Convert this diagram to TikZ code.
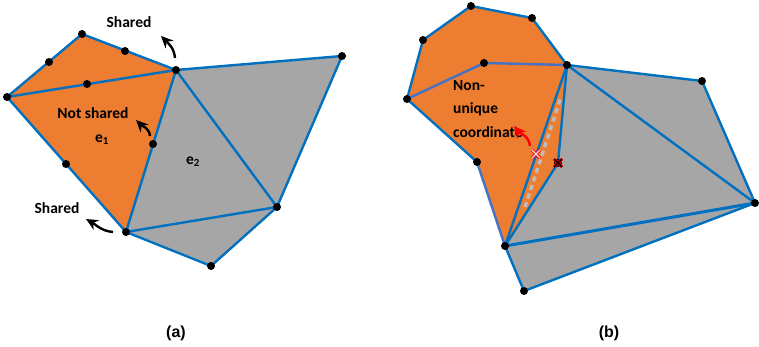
\documentclass[tikz,border=0pt]{standalone}
\usepackage{fontspec}
\setmainfont{Liberation Sans}
\newfontfamily\lblfont{Carlito}
\usetikzlibrary{arrows.meta}
\definecolor{edgeblue}{HTML}{0070C0}
\definecolor{softblue}{HTML}{4472C4}
\definecolor{elemorange}{HTML}{ED7D31}
\definecolor{elemgray}{HTML}{A6A6A6}
\definecolor{dashgray}{HTML}{BDBDBD}

\begin{document}
\begin{tikzpicture}[x=1pt,y=-1pt,>={Stealth[length=12pt,width=11pt]},
 edge/.style={edgeblue,line width=2.4pt,line cap=round},
 softedge/.style={softblue,line width=2.4pt,line cap=round},
 lbl/.style={font=\lblfont\bfseries\fontsize{15.5}{23.5}\selectfont},
 captext/.style={font=\bfseries\fontsize{16}{18}\selectfont},
 turn/.style={->,line width=2.4pt}]
\useasboundingbox (0,0) rectangle (759,347);
% mesh (a)
\foreach \n/\x/\y in {aW/7/97,aN/82/34,aT/176/70,aE/342/56,aS/126/232,aR/277/207,aB/211/266,
 aWN/49/62,aNT/125/51,aWT/87/84,aTS/153/144,aWS/66/164}
 \coordinate (\n) at (\x,\y);
% mesh (b)
\foreach \n/\x/\y in {bN/471/6,bNE/532/18,bNW/423/40,bC/484/63,bT/567/65,bW/407/99,bSW/477/162,
 bE/702/81,bFE/755/203,bS/505/246,bB/524/291,bX/536/154,bY/558/163,bD1/525/207,bD2/561/97}
 \coordinate (\n) at (\x,\y);
\fill[elemorange] (aW)--(aN)--(aT)--(aS)--cycle;
\fill[elemgray] (aT)--(aE)--(aR)--(aB)--(aS)--cycle;
\fill[elemorange] (bW)--(bNW)--(bN)--(bNE)--(bT)--(bY)--(bS)--(bSW)--cycle;
\fill[elemgray] (bT)--(bE)--(bFE)--(bB)--(bS)--(bY)--cycle;
\draw[dashgray,line width=3.4pt,dash pattern=on 5pt off 4pt] (bD1)--(bD2);
\foreach \a/\b in {aW/aN,aN/aT,aW/aT,aT/aS,aS/aW,aT/aE,aE/aR,aT/aR,aS/aR,aS/aB,aB/aR,
 bW/bNW,bNW/bN,bN/bNE,bNE/bT,bW/bSW,bS/bT,bS/bY,bY/bT,bT/bE,bE/bFE,bT/bFE,bS/bB,bB/bFE}
 \draw[edge] (\a)--(\b);
\draw[edge,line width=3pt] (bS)--(bFE);
\foreach \a/\b in {bW/bC,bC/bT,bSW/bS}
 \draw[softedge] (\a)--(\b);
\foreach \n in {aW,aN,aT,aE,aS,aR,aB,aWN,aNT,aWT,aTS,aWS,
 bN,bNE,bNW,bC,bT,bW,bSW,bE,bFE,bS,bB,bY}
 \fill (\n) circle (4);
% crosses
\draw[red,line width=3pt] (bX)+(-4,-4)--+(4,4) (bX)+(-4,4)--+(4,-4);
\draw[white!85!red,line width=1.2pt] (bX)+(-4,-4)--+(4,4) (bX)+(-4,4)--+(4,-4);
\draw[red,line width=3pt] (bY)+(-4,-4)--+(4,4) (bY)+(-4,4)--+(4,-4);
\draw[black,line width=1.4pt] (bY)+(-4,-4)--+(4,4) (bY)+(-4,4)--+(4,-4);
% labels
\node[lbl] (sharedtop) at (129,22) {Shared};
\node[lbl] (notshared) at (93,113) {Not shared};
\node[lbl] (eone) at (102,140) {e\textsubscript{1}};
\node[lbl] (etwo) at (193,162) {e\textsubscript{2}};
\node[lbl] (sharedbot) at (57,208) {Shared};
\node[lbl,align=left,anchor=north west,inner sep=0pt] (nonunique) at (453,80) {Non-\\unique\\coordinate};
\node[captext] (capa) at (176,333) {(a)};
\node[captext] (capb) at (609,333) {(b)};
% arrows
\foreach \n/\x/\y in {t1/175/58,h1/161/36,t2/150/136,h2/136/120,t3/113/232,h3/86/219,t4/530/146,h4/514/126}
 \coordinate (\n) at (\x,\y);
\draw[turn] (t1) to[out=95,in=-45] (h1);
\draw[turn] (t2) to[out=95,in=-45] (h2);
\draw[turn] (t3) to[out=175,in=-30] (h3);
\draw[turn,red] (t4) to[out=95,in=-50] (h4);
\end{tikzpicture}
\end{document}
